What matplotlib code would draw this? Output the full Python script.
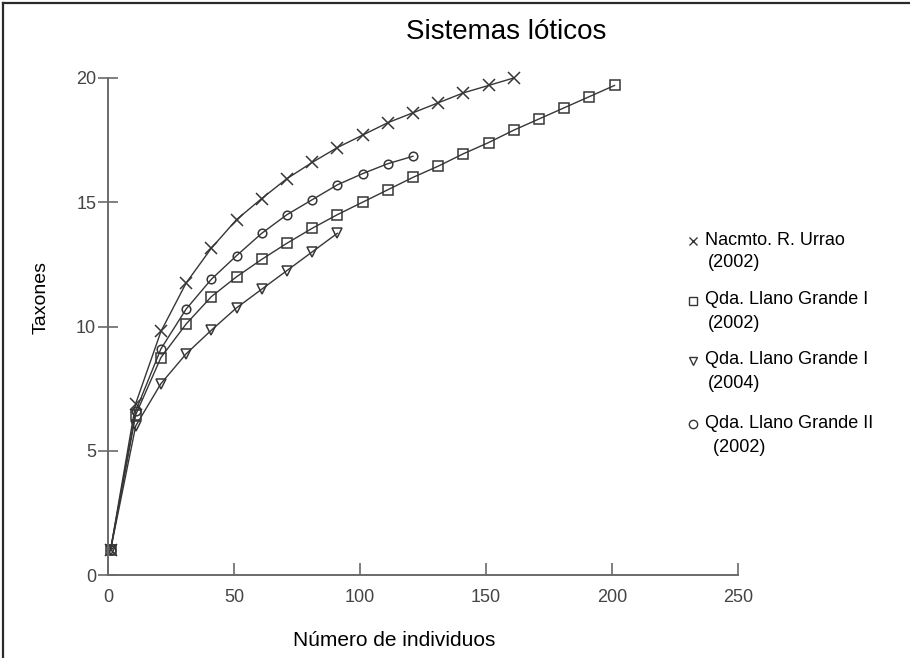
"""Curvas de rarefacción para los sistemas lóticos."""

from __future__ import annotations

import matplotlib

matplotlib.use("Agg")
import matplotlib.pyplot as plt
from matplotlib.lines import Line2D

plt.rcParams["font.family"] = ["Liberation Sans", "DejaVu Sans"]

TITLE = "Sistemas lóticos"
X_LABEL = "Número de individuos"
Y_LABEL = "Taxones"
X_TICKS = [0, 50, 100, 150, 200, 250]
Y_TICKS = [0, 5, 10, 15, 20]

# Nacmto. R. Urrao (2002)
urrao_x = [1, 11, 21, 31, 41, 51, 61, 71, 81, 91, 101, 111, 121, 131, 141, 151, 161]
urrao_y = [1, 6.9, 9.8, 11.75, 13.15, 14.3, 15.15, 15.95, 16.6, 17.2, 17.7, 18.2,
           18.6, 19.0, 19.4, 19.7, 20.0]

# Qda. Llano Grande I (2002)
lg1_2002_x = [1, 11, 21, 31, 41, 51, 61, 71, 81, 91, 101, 111, 121, 131, 141, 151,
              161, 171, 181, 191, 201]
lg1_2002_y = [1, 6.45, 8.75, 10.1, 11.2, 12.0, 12.7, 13.35, 13.95, 14.5, 15.0, 15.5,
              16.0, 16.45, 16.95, 17.4, 17.9, 18.35, 18.8, 19.25, 19.7]

# Qda. Llano Grande I (2004)
lg1_2004_x = [1, 11, 21, 31, 41, 51, 61, 71, 81, 91]
lg1_2004_y = [1, 6.0, 7.7, 8.9, 9.85, 10.75, 11.5, 12.25, 13.0, 13.75]

# Qda. Llano Grande II (2002)
lg2_x = [1, 11, 21, 31, 41, 51, 61, 71, 81, 91, 101, 111, 121]
lg2_y = [1, 6.6, 9.1, 10.7, 11.9, 12.85, 13.75, 14.5, 15.1, 15.7, 16.15, 16.55, 16.85]

SERIES = [
    ("Nacmto. R. Urrao\n(2002)", urrao_x, urrao_y, "x", 8.8),
    ("Qda. Llano Grande I\n(2002)", lg1_2002_x, lg1_2002_y, "s", 7.4),
    ("Qda. Llano Grande I\n(2004)", lg1_2004_x, lg1_2004_y, "v", 6.8),
    ("Qda. Llano Grande II\n (2002)", lg2_x, lg2_y, "o", 6.2),
]

INK = "#363636"
AXIS_GREY = "#6a6a6a"
W, H = 910, 658


def fx(px: float) -> float:
    return px / W


def fy(py: float) -> float:
    return 1.0 - py / H


def main() -> None:
    fig = plt.figure(figsize=(W / 100, H / 100), dpi=100, facecolor="white")
    ax = fig.add_axes((fx(108), fy(575), fx(738) - fx(108), fy(78) - fy(575)))

    for _, xs, ys, marker, size in SERIES:
        ax.plot(
            xs,
            ys,
            color=INK,
            linewidth=1.0,
            marker=marker,
            markersize=size,
            markerfacecolor="none",
            markeredgecolor=INK,
            markeredgewidth=1.1,
            clip_on=False,
        )

    ax.set_xlim(0, 250)
    ax.set_ylim(0, 20)
    ax.set_xticks(X_TICKS)
    ax.set_yticks(Y_TICKS)
    ax.spines[["top", "right"]].set_visible(False)
    for side in ("left", "bottom"):
        ax.spines[side].set_color(AXIS_GREY)
        ax.spines[side].set_linewidth(1.4)
    ax.tick_params(axis="x", direction="in", length=8.6, width=1.2,
                   color=AXIS_GREY, labelsize=13, labelcolor="#444444", pad=10)
    ax.tick_params(axis="y", direction="inout", length=15, width=1.2,
                   color=AXIS_GREY, labelsize=13, labelcolor="#444444", pad=1)
    ax.set_xlabel(X_LABEL, fontsize=15)
    ax.xaxis.set_label_coords((394 - 108) / 630, -(640 - 575) / 497)
    ax.set_ylabel(Y_LABEL, fontsize=14)
    ax.yaxis.set_label_coords(-(108 - 41) / 630, (575 - 298) / 497)
    ax.xaxis.label.set_va("center")
    ax.yaxis.label.set_va("center")

    fig.text(fx(506), fy(32), TITLE, fontsize=20, ha="center", va="center")

    # legend built by hand: marker sits on the first text line
    legend_rows = [(240, 262), (300, 323), (360, 383), (423, 447)]
    for (label, _, _, marker, _), (y1, y2) in zip(SERIES, legend_rows):
        first, second = label.split("\n")
        fig.add_artist(
            Line2D([fx(693)], [fy(y1 + 1)], transform=fig.transFigure,
                   marker=marker, markersize=6, markerfacecolor="none",
                   markeredgecolor=INK, markeredgewidth=1.0, linestyle="none")
        )
        fig.text(fx(705), fy(y1), first, fontsize=13, ha="left", va="center")
        fig.text(fx(708), fy(y2), second, fontsize=13, ha="left", va="center")

    # picture frame (left and top edges only)
    fig.add_artist(Line2D([fx(3), fx(3)], [0, fy(3)], transform=fig.transFigure,
                          color="#2a2a2a", linewidth=1.6))
    fig.add_artist(Line2D([fx(3), 1], [fy(3), fy(3)], transform=fig.transFigure,
                          color="#2a2a2a", linewidth=1.6))

    fig.savefig("out.png", dpi=100, facecolor="white")
    plt.close(fig)


if __name__ == "__main__":
    main()
